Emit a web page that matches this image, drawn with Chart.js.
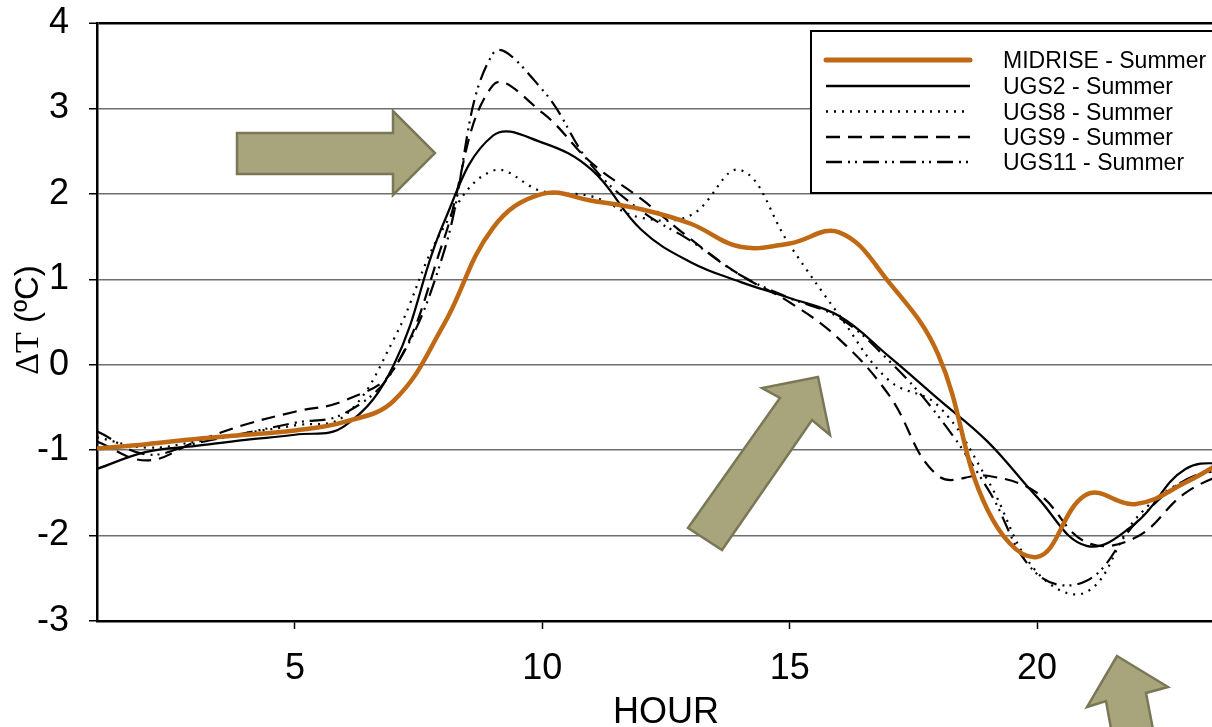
<!DOCTYPE html>
<html>
<head>
<meta charset="utf-8">
<script src="https://cdn.jsdelivr.net/npm/chart.js@4.4.1/dist/chart.umd.min.js"></script>
<style>
  html, body { margin: 0; padding: 0; background: #fff; overflow: hidden; }
  #wrap { width: 1240px; height: 727px; }
</style>
</head>
<body>
<div id="wrap"><canvas id="c" width="1240" height="727"></canvas></div>
<script>
// ---- data (hour of day, temperature difference in ºC) ----
const hours = [1,2,3,4,5,6,7,8,9,10,11,12,13,14,15,16,17,18,19,20,21,22,23,24];
const midrise = [-0.98,-0.93,-0.87,-0.82,-0.77,-0.67,-0.42,0.46,1.6,2.0,1.92,1.82,1.65,1.38,1.42,1.55,0.97,0.12,-1.7,-2.25,-1.52,-1.63,-1.38,-1.05];
const ugs2    = [-1.22,-1.02,-0.95,-0.88,-0.82,-0.72,0.0,1.65,2.68,2.6,2.28,1.58,1.2,0.97,0.78,0.57,0.1,-0.4,-0.9,-1.55,-2.12,-1.85,-1.22,-1.15];
const ugs8    = [-0.85,-0.97,-0.9,-0.8,-0.71,-0.6,0.3,1.6,2.27,2.03,1.97,1.72,1.75,2.28,1.4,0.58,-0.18,-0.48,-1.35,-2.43,-2.66,-1.8,-1.35,-1.2];
const ugs9    = [-0.9,-1.12,-0.9,-0.7,-0.55,-0.42,-0.05,1.45,3.27,2.95,2.36,1.94,1.47,1.05,0.73,0.3,-0.35,-1.3,-1.3,-1.5,-2.08,-2.02,-1.5,-1.22];
const ugs11   = [-0.78,-1.05,-0.92,-0.8,-0.68,-0.57,-0.05,1.3,3.64,3.22,2.33,1.8,1.45,1.05,0.78,0.55,0.05,-0.6,-1.45,-2.45,-2.53,-1.85,-1.35,-1.2];
const seriesNames = ['MIDRISE - Summer','UGS2 - Summer','UGS8 - Summer','UGS9 - Summer','UGS11 - Summer'];
const yTicks = [-3,-2,-1,0,1,2,3,4];
const xTicks = [5,10,15,20];

const ORANGE = 'rgb(192,105,20)';
const styles = [
  { color: ORANGE, width: 4.5, dash: [] },
  { color: '#000', width: 2.2, dash: [] },
  { color: '#000', width: 2.2, dash: [2,6] },
  { color: '#000', width: 2.2, dash: [14,8] },
  { color: '#000', width: 2.2, dash: [16,6,2,5,2,6] }
];
const seriesData = [midrise, ugs2, ugs8, ugs9, ugs11];

const datasets = seriesData.map((arr, i) => ({
  label: seriesNames[i],
  data: hours.map((h, k) => ({ x: h, y: arr[k] })),
  borderColor: styles[i].color,
  borderWidth: styles[i].width,
  borderDash: styles[i].dash,
  pointRadius: 0,
  fill: false,
  tension: 0.4,
  order: i === 0 ? 0 : 1
}));

// ---- decorations: legend box, axis title with mixed fonts, arrows ----
const decor = {
  id: 'decor',
  afterDatasetsDraw(chart) {
    const ctx = chart.ctx;
    ctx.save();
    // legend box
    ctx.fillStyle = '#fff';
    ctx.strokeStyle = '#000';
    ctx.lineWidth = 2;
    ctx.fillRect(811, 31, 460, 162);
    ctx.strokeRect(811, 31, 460, 162);
    const rows = [60, 86, 111.5, 137, 162];
    seriesNames.forEach((name, i) => {
      const s = styles[i];
      ctx.beginPath();
      ctx.strokeStyle = s.color;
      ctx.lineWidth = i === 0 ? 5 : 2.6;
      ctx.lineCap = i === 0 ? 'round' : 'butt';
      ctx.setLineDash(s.dash);
      ctx.moveTo(826, rows[i]);
      ctx.lineTo(970, rows[i]);
      ctx.stroke();
      ctx.setLineDash([]);
      ctx.fillStyle = '#000';
      ctx.font = '23px "Liberation Sans", Arial, sans-serif';
      ctx.textBaseline = 'alphabetic';
      ctx.textAlign = 'left';
      ctx.fillText(name, 1003, rows[i] + 8);
    });

    // arrows
    const arrows = [
      [[237,133],[393,133],[393,111],[435,153],[393,195],[393,174],[237,174]],
      [[818,377],[830,435],[812,420],[722,550],[688,528],[780,398],[762,388]],
      [[1117,656],[1168,687],[1146,693],[1156,745],[1114,745],[1106,701],[1087,707]]
    ];
    ctx.fillStyle = 'rgb(168,165,124)';
    ctx.strokeStyle = 'rgb(122,119,86)';
    ctx.lineWidth = 2.5;
    ctx.lineJoin = 'miter';
    arrows.forEach(pts => {
      ctx.beginPath();
      pts.forEach((p, k) => k ? ctx.lineTo(p[0], p[1]) : ctx.moveTo(p[0], p[1]));
      ctx.closePath();
      ctx.fill();
      ctx.stroke();
    });

    // y axis title  "ΔT (ºC)"
    ctx.save();
    ctx.translate(38, 320);
    ctx.rotate(-Math.PI / 2);
    ctx.fillStyle = '#000';
    ctx.textBaseline = 'alphabetic';
    const f1 = '34px "Liberation Serif", "Times New Roman", serif';
    const f2 = '33px "Liberation Sans", Arial, sans-serif';
    ctx.font = f1; const w1 = ctx.measureText('ΔT').width;
    ctx.font = f2; const w2 = ctx.measureText(' (ºC)').width;
    const x0 = -(w1 + w2) / 2;
    ctx.font = f1; ctx.fillText('ΔT', x0, 0);
    ctx.font = f2; ctx.fillText(' (ºC)', x0 + w1, 0);
    ctx.restore();
    ctx.restore();
  }
};

new Chart(document.getElementById('c'), {
  type: 'line',
  data: { datasets },
  plugins: [decor],
  options: {
    responsive: false,
    animation: false,
    devicePixelRatio: 1,
    layout: { padding: { top: 23, right: 5, left: 0, bottom: 0 } },
    plugins: { legend: { display: false }, tooltip: { enabled: false } },
    scales: {
      x: {
        type: 'linear',
        min: 1, max: 24,
        afterFit: s => { s.height = 106; s.paddingLeft = 0; s.paddingRight = 0; },
        afterBuildTicks: s => { s.ticks = xTicks.map(v => ({ value: v })); },
        grid: { display: true, drawOnChartArea: false, drawTicks: true, tickLength: 8, tickColor: '#000', tickWidth: 1.5 },
        border: { display: true, color: '#000', width: 2.5 },
        ticks: { color: '#000', padding: 22, maxRotation: 0, font: { family: '"Liberation Sans", Arial, sans-serif', size: 36, lineHeight: 1 } },
        title: { display: true, text: 'HOUR', color: '#000', padding: { top: 0, bottom: 0 }, font: { family: '"Liberation Sans", Arial, sans-serif', size: 36, lineHeight: 0.8 } }
      },
      y: {
        type: 'linear',
        min: -3, max: 4,
        afterFit: s => { s.width = 97; s.paddingTop = 0; s.paddingBottom = 0; },
        afterBuildTicks: s => { s.ticks = yTicks.map(v => ({ value: v })); },
        grid: {
          color: c => c.tick && c.tick.value === 4 ? '#000' : '#6e6e6e',
          lineWidth: c => c.tick && c.tick.value === 4 ? 2.5 : 1.5,
          drawTicks: true, tickLength: 8, tickColor: '#000', tickWidth: 1.5
        },
        border: { display: true, color: '#000', width: 2.5 },
        ticks: { color: '#000', padding: 20, font: { family: '"Liberation Sans", Arial, sans-serif', size: 36, lineHeight: 1 } }
      }
    }
  }
});
</script>
</body>
</html>
